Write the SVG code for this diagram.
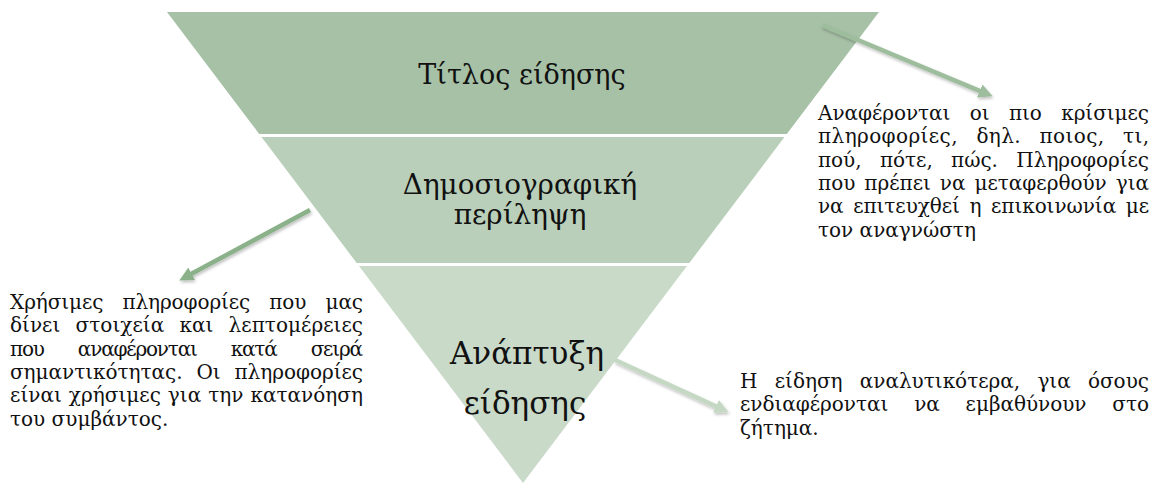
<svg xmlns="http://www.w3.org/2000/svg" width="1155" height="484" viewBox="0 0 1155 484">
<style>
.lbl{font-family:"DejaVu Serif","Liberation Serif",serif;fill:#111;text-anchor:middle}
.body{font-family:"DejaVu Serif","Liberation Serif",serif;font-size:20px;fill:#111}
.conn{fill:none;stroke-width:4.5;filter:url(#sh)}
</style>
<defs>
<filter id="sh" x="-20%" y="-20%" width="140%" height="140%">
<feDropShadow dx="1" dy="2" stdDeviation="1.5" flood-color="#000" flood-opacity="0.25"/>
</filter>
<marker id="m1" viewBox="0 0 12 12" refX="1" refY="6" markerWidth="14" markerHeight="14" markerUnits="userSpaceOnUse" orient="auto"><path d="M0,0 L12,6 L0,12 z" fill="#9dbd9d"/></marker>
<marker id="m2" viewBox="0 0 12 12" refX="1" refY="6" markerWidth="14" markerHeight="14" markerUnits="userSpaceOnUse" orient="auto"><path d="M0,0 L12,6 L0,12 z" fill="#8ab18a"/></marker>
<marker id="m3" viewBox="0 0 12 12" refX="1" refY="6" markerWidth="14" markerHeight="14" markerUnits="userSpaceOnUse" orient="auto"><path d="M0,0 L12,6 L0,12 z" fill="#c4d8c4"/></marker>
</defs>
<rect width="1155" height="484" fill="#fff"/>
<g id="node-title">
<polygon points="167,12 879,12 786.8,134 259.2,134" fill="#a7c1a7"/>
<text class="lbl" x="522" y="84" font-size="27">Τίτλος είδησης</text>
</g>
<g id="node-summary">
<polygon points="261.5,137 784.5,137 689.3,263 356.7,263" fill="#b9cfb9"/>
<text class="lbl" font-size="27.8"><tspan x="520" y="194">Δημοσιογραφική</tspan><tspan x="520" y="224">περίληψη</tspan></text>
</g>
<g id="node-body">
<polygon points="359,266 687,266 523,483" fill="#c9dac9"/>
<text class="lbl" font-size="31"><tspan x="527" y="364">Ανάπτυξη</tspan><tspan x="525" y="414">είδησης</tspan></text>
</g>
<g id="connectors">
<line class="conn" x1="822" y1="25" x2="980.8" y2="91.4" stroke="#9dbd9d" marker-end="url(#m1)"/>
<line class="conn" x1="310" y1="210" x2="190.6" y2="274.3" stroke="#8ab18a" marker-end="url(#m2)"/>
<line class="conn" x1="615" y1="360" x2="717" y2="406.9" stroke="#c4d8c4" marker-end="url(#m3)"/>
</g>
<g id="text-right">
<text class="body" x="818" y="120" word-spacing="13.1" textLength="331" lengthAdjust="spacing">Αναφέρονται οι πιο κρίσιμες</text>
<text class="body" x="818" y="143.3" word-spacing="11.7" textLength="331" lengthAdjust="spacing">πληροφορίες, δηλ. ποιος, τι,</text>
<text class="body" x="818" y="166.6" word-spacing="12.1" textLength="331" lengthAdjust="spacing">πού, πότε, πώς. Πληροφορίες</text>
<text class="body" x="818" y="190" word-spacing="2.7" textLength="331" lengthAdjust="spacing">που πρέπει να μεταφερθούν για</text>
<text class="body" x="818" y="213.2" word-spacing="3.3" textLength="331" lengthAdjust="spacing">να επιτευχθεί η επικοινωνία με</text>
<text class="body" x="818" y="236.5">τον αναγνώστη</text>
</g>
<g id="text-left">
<text class="body" x="10" y="309" word-spacing="12.8" textLength="353" lengthAdjust="spacing">Χρήσιμες πληροφορίες που μας</text>
<text class="body" x="10" y="332.3" word-spacing="8.9" textLength="353" lengthAdjust="spacing">δίνει στοιχεία και λεπτομέρειες</text>
<text class="body" x="10" y="355.6" word-spacing="28.9" textLength="353" lengthAdjust="spacing">που αναφέρονται κατά σειρά</text>
<text class="body" x="10" y="379" word-spacing="7.6" textLength="353" lengthAdjust="spacing">σημαντικότητας. Οι πληροφορίες</text>
<text class="body" x="10" y="402.2" word-spacing="0.6" textLength="353" lengthAdjust="spacing">είναι χρήσιμες για την κατανόηση</text>
<text class="body" x="10" y="425.5">του συμβάντος.</text>
</g>
<g id="text-bottom">
<text class="body" x="740" y="388" word-spacing="10.9" textLength="409" lengthAdjust="spacing">Η είδηση αναλυτικότερα, για όσους</text>
<text class="body" x="740" y="411.3" word-spacing="19.5" textLength="409" lengthAdjust="spacing">ενδιαφέρονται να εμβαθύνουν στο</text>
<text class="body" x="740" y="434.6">ζήτημα.</text>
</g>
</svg>
